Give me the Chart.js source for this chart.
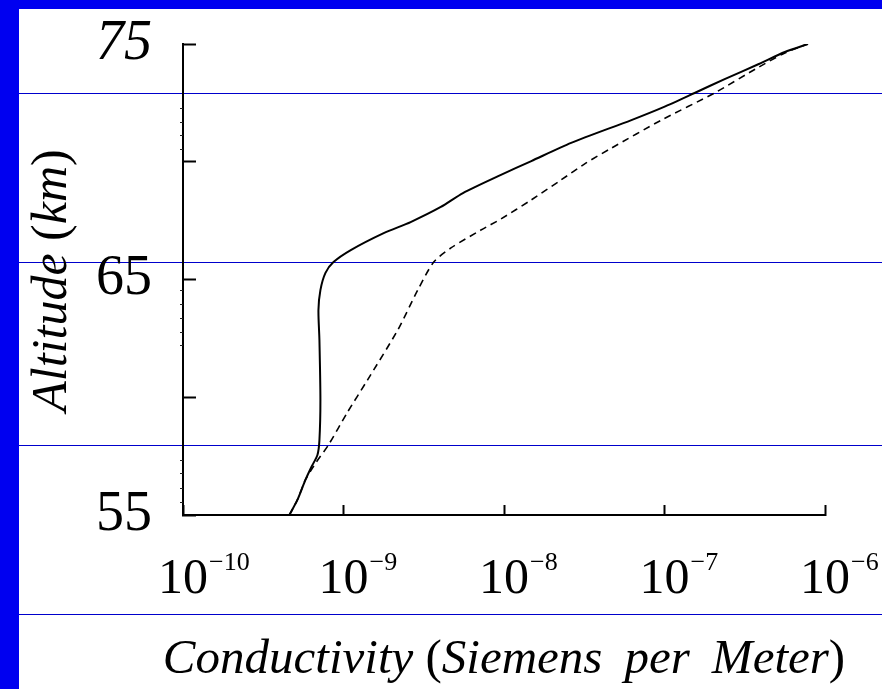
<!DOCTYPE html>
<html>
<head>
<meta charset="utf-8">
<script src="https://cdn.jsdelivr.net/npm/chart.js@4/dist/chart.umd.min.js"></script>
<style>
  body { margin: 0; background: #fff; }
  #wrap { position: relative; width: 882px; height: 689px; background: #fff; overflow: hidden; }
  .band { position: absolute; background: #0000f0; }
  .rule { position: absolute; left: 19px; right: 0; height: 1px; background: #0000cc; }
  canvas { position: absolute; left: 0; top: 0; }
</style>
</head>
<body>
<div id="wrap">
  <div class="band" style="left:0;top:0;width:882px;height:9px"></div>
  <div class="band" style="left:0;top:0;width:19px;height:689px"></div>
  <div class="rule" style="top:93px"></div>
  <div class="rule" style="top:262px"></div>
  <div class="rule" style="top:445px"></div>
  <div class="rule" style="top:614px"></div>
  <canvas id="chart" width="882" height="689"></canvas>
</div>
<script>
// solid curve
const solidAltitude = [55.0, 55.64, 56.49, 57.04, 57.55, 58.18, 59.88, 62.43, 63.7, 64.55, 65.28, 65.74,
  66.25, 66.97, 67.44, 68.08, 68.67, 69.44, 70.03, 70.8, 71.77, 72.32, 72.92, 73.51, 74.15, 74.66, 75.0];
const solidConductivity = [4.6e-10, 5.16e-10, 5.79e-10, 6.31e-10, 6.88e-10, 7.08e-10, 7.18e-10, 7.08e-10,
  6.98e-10, 7.18e-10, 7.72e-10, 8.66e-10, 1.11e-9, 1.78e-9, 2.62e-9, 4.04e-9, 5.55e-9, 9.57e-9, 1.48e-8,
  2.62e-8, 6.22e-8, 9.86e-8, 1.54e-7, 2.37e-7, 3.87e-7, 5.62e-7, 7.83e-7];

// dashed curve
const dashedAltitude = [55.0, 55.64, 56.49, 57.25, 57.97, 59.37, 60.73, 62.86, 64.55, 65.74, 66.34, 67.1,
  67.57, 68.38, 69.23, 69.95, 70.58, 71.77, 72.92, 74.02, 74.62, 75.0];
const dashedConductivity = [4.6e-10, 5.16e-10, 5.79e-10, 6.78e-10, 8.05e-10, 1.06e-9, 1.41e-9, 2.18e-9,
  2.9e-9, 3.65e-9, 4.67e-9, 7.18e-9, 9.57e-9, 1.48e-8, 2.27e-8, 3.25e-8, 4.67e-8, 9.57e-8, 2.05e-7,
  3.87e-7, 5.62e-7, 7.83e-7];

const xTickValues = [1e-10, 1e-9, 1e-8, 1e-7, 1e-6];
const xTickExponents = ["\u221210", "\u22129", "\u22128", "\u22127", "\u22126"];
const yLabelledTicks = [75, 65, 55];
const yMinorTicks = [72.3, 71.7, 71.15, 70.55, 64.55, 63.95, 63.35, 62.75, 62.2, 57.35, 56.8, 56.15, 55.55];

// axis titles: [text, italic?]
const xTitle = [["Conductivity", true], [" (", false], ["Siemens\u2009 per\u2009 Meter", true], [")", false]];
const yTitle = [["Altitude", true], [" (", false], ["km", true], [")", false]];

const serif = "'Liberation Serif', 'Times New Roman', serif";

function toPoints(xs, ys) {
  return xs.map((x, i) => ({ x: x, y: ys[i] }));
}

function drawParts(ctx, parts, size, cx, cy, rotation) {
  const fontFor = (it) => (it ? "italic " : "") + size + "px " + serif;
  let total = 0;
  parts.forEach(([t, it]) => {
    ctx.font = fontFor(it);
    total += ctx.measureText(t).width;
  });
  ctx.save();
  ctx.translate(cx, cy);
  ctx.rotate(rotation);
  ctx.textAlign = "left";
  ctx.textBaseline = "middle";
  ctx.fillStyle = "#000";
  let x = -total / 2;
  parts.forEach(([t, it]) => {
    ctx.font = fontFor(it);
    ctx.fillText(t, x, 0);
    x += ctx.measureText(t).width;
  });
  ctx.restore();
}

const axisExtras = {
  id: "axisExtras",
  afterDraw(chart) {
    const ctx = chart.ctx;
    const xs = chart.scales.x;
    const ys = chart.scales.y;
    ctx.save();
    // small minor ticks on the altitude axis
    ctx.strokeStyle = "#222";
    ctx.lineWidth = 1;
    yMinorTicks.forEach((v) => {
      const py = Math.round(ys.getPixelForValue(v)) + 0.5;
      ctx.beginPath();
      ctx.moveTo(xs.left - 3, py);
      ctx.lineTo(xs.left, py);
      ctx.stroke();
    });
    // power of ten labels
    ctx.fillStyle = "#000";
    ctx.textBaseline = "alphabetic";
    xTickValues.forEach((v, i) => {
      const px = xs.getPixelForValue(v);
      ctx.font = "50px " + serif;
      const w = ctx.measureText("10").width;
      ctx.textAlign = "left";
      ctx.fillText("10", px - w / 2, 593);
      ctx.font = "26px " + serif;
      ctx.fillText(xTickExponents[i], px + w / 2 + 1, 570);
    });
    ctx.restore();
    const area = chart.chartArea;
    drawParts(ctx, xTitle, 49, (area.left + area.right) / 2, 660, 0);
    drawParts(ctx, yTitle, 50, 53, (area.top + area.bottom) / 2 + 1, -Math.PI / 2);
  },
};

new Chart(document.getElementById("chart"), {
  type: "scatter",
  data: {
    datasets: [
      {
        label: "solid",
        data: toPoints(solidConductivity, solidAltitude),
        showLine: true,
        borderColor: "#000",
        borderWidth: 2,
        tension: 0.25,
        pointRadius: 0,
      },
      {
        label: "dashed",
        data: toPoints(dashedConductivity, dashedAltitude),
        showLine: true,
        borderColor: "#000",
        borderWidth: 1.6,
        borderDash: [7, 5],
        tension: 0.25,
        pointRadius: 0,
      },
    ],
  },
  options: {
    responsive: false,
    animation: false,
    devicePixelRatio: 1,
    layout: { padding: { left: 19, top: 44, right: 57, bottom: 0 } },
    plugins: { legend: { display: false }, tooltip: { enabled: false } },
    scales: {
      x: {
        type: "logarithmic",
        position: "bottom",
        min: 1e-10,
        max: 1e-6,
        afterBuildTicks: (scale) => {
          scale.ticks = xTickValues.map((v) => ({ value: v }));
        },
        afterFit: (scale) => {
          scale.height = 174;
          scale.paddingLeft = 0;
          scale.paddingRight = 0;
        },
        ticks: { display: false },
        grid: {
          drawOnChartArea: false,
          tickLength: -10,
          tickColor: "#000",
          tickWidth: 2,
        },
        border: { color: "#000", width: 2 },
      },
      y: {
        min: 55,
        max: 75,
        afterFit: (scale) => {
          scale.width = 164;
          scale.paddingTop = 0;
          scale.paddingBottom = 0;
        },
        ticks: {
          stepSize: 5,
          padding: 44,
          color: "#000",
          font: (c) => ({
            family: serif,
            size: 56,
            style: c.tick && c.tick.value === 75 ? "italic" : "normal",
          }),
          callback: (v) => (yLabelledTicks.includes(v) ? String(v) : ""),
        },
        grid: {
          drawOnChartArea: false,
          tickLength: -13,
          tickColor: "#000",
          tickWidth: 2,
        },
        border: { color: "#000", width: 2 },
      },
    },
  },
  plugins: [axisExtras],
});
</script>
</body>
</html>
